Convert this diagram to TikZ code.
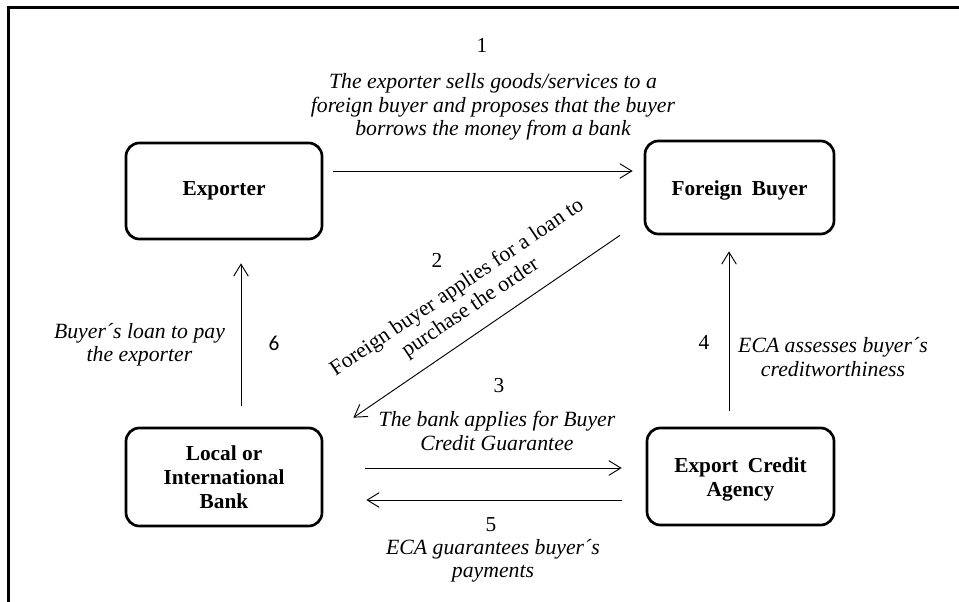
\documentclass[tikz,border=0pt]{standalone}
\usepackage{fontspec}
\setmainfont{Liberation Serif}
\newfontfamily\carlito{Carlito}
\usetikzlibrary{arrows.meta}
\begin{document}
\begin{tikzpicture}[x=0.75pt,y=-0.75pt,
  box/.style={draw, line width=2pt, rounded corners=10pt, align=center, inner sep=0pt,
    font=\bfseries\fontsize{16}{18}\selectfont},
  arr/.style={-{Straight Barb[length=9pt,width=11pt]}, line width=0.7pt},
  lab/.style={font=\itshape\fontsize{16.3}{17.6}\selectfont, align=center, inner sep=0pt},
  rlab/.style={font=\fontsize{16.3}{18}\selectfont, align=center, inner sep=0pt},
  num/.style={font=\fontsize{16}{18}\selectfont, inner sep=0pt}]
\useasboundingbox (0,0) rectangle (959,602);
\draw[line width=2pt] (8.5,610) -- (8.5,7.5) -- (965,7.5);

\node[box, minimum width=147pt, minimum height=72pt] (exp) at (224,191) {Exporter};
\node[box, minimum width=141.75pt, minimum height=69.75pt, text height=15pt, text depth=3.5pt] (fb) at (739.5,187.5) {Foreign\hspace{0.45em}Buyer};
\node[box, minimum width=147pt, minimum height=73.5pt] (bank) at (224,477) {Local or\\International\\Bank};
\node[box, minimum width=140.25pt, minimum height=72.75pt, text height=34pt] (eca) at (740.5,476.5) {Export\hspace{0.45em}Credit\\Agency};

% 1
\draw[arr] ([shift={(10,-20)}]exp.east) -- ([shift={(-11,-16.5)}]fb.west);
\node[num] (n1) at (482,45) {1};
\node[lab] (t1) at (493,107) {The exporter sells goods/services to a\\foreign buyer and proposes that the buyer\\borrows the money from a bank};

% 2
\draw[arr] ([shift={(-119.5,0)}]fb.south) -- ([shift={(30,-9)}]bank.north east);
\node[num] (n2) at (437,260) {2};
\node[rlab, rotate=34] (t2) at (464,298) {Foreign buyer applies for a loan to\\purchase the order};

% 3
\draw[arr] ([shift={(42,-9)}]bank.east) -- ([shift={(-24,-8.5)}]eca.west);
\node[num] (n3) at (499,386) {3};
\node[lab] (t3) at (497,431) {The bank applies for Buyer\\Credit Guarantee};

% 4
\draw[arr] ([shift={(-11.5,-16)}]eca.north) -- ([shift={(-10.5,16)}]fb.south);
\node[num] (n4) at (704,342) {4};
\node[lab] (t4) at (833,357) {ECA assesses buyer´s\\creditworthiness};

% 5
\draw[arr] ([shift={(-24,23.5)}]eca.west) -- ([shift={(43,23)}]bank.east);
\node[num] (n5) at (491,525) {5};
\node[lab] (t5) at (493,561) {ECA guarantees buyer´s\\payments};

% 6
\draw[arr] ([shift={(17,-21)}]bank.north) -- ([shift={(17,23)}]exp.south);
\node[num, font=\carlito\fontsize{16}{18}\selectfont] (n6) at (274,343) {6};
\node[lab] (t6) at (139.5,345) {Buyer´s loan to pay\\the exporter};
\end{tikzpicture}
\end{document}
